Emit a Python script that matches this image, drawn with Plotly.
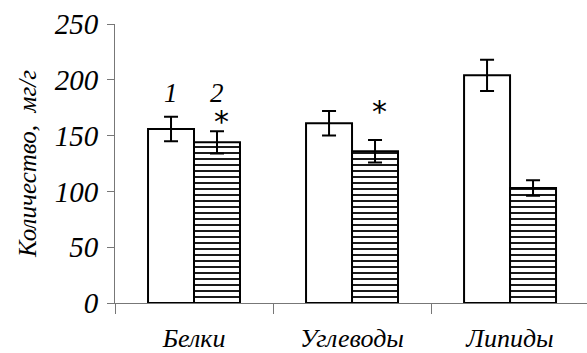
import plotly.graph_objects as go

categories = ["Белки", "Углеводы", "Липиды"]
series1 = [156, 161, 204]
err1 = [11, 11, 14]
series2 = [144, 136, 103]
err2 = [10, 10, 7]
y_ticks = [0, 50, 100, 150, 200, 250]
group_labels = ["1", "2"]
star_cats = ["Белки", "Углеводы"]
star_vals = [163, 172]

FONT = "Liberation Serif"

fig = go.Figure()
fig.add_trace(go.Bar(
    x=categories, y=series1, name="1",
    marker=dict(color="white", line=dict(color="black", width=2)),
    error_y=dict(type="data", array=err1, color="black", thickness=2, width=7),
))
fig.add_trace(go.Bar(
    x=categories, y=series2, name="2",
    marker=dict(color="white", line=dict(color="black", width=2),
                pattern=dict(shape="-", fgcolor="black", fgopacity=1, bgcolor="white",
                             size=6, solidity=0.3)),
    error_y=dict(type="data", array=err2, color="black", thickness=2, width=7),
))

annotations = []
for i, lab in enumerate(group_labels):
    annotations.append(dict(x=categories[0], y=188, xref="x", yref="y", text="<i>" + lab + "</i>",
                            showarrow=False, xshift=(-23 if i == 0 else 23),
                            font=dict(family=FONT, size=27, color="black")))
for c, v in zip(star_cats, star_vals):
    annotations.append(dict(x=c, y=v, xref="x", yref="y", text="*", showarrow=False,
                            xshift=27, font=dict(family="DejaVu Sans", size=30, color="black")))

fig.update_layout(
    width=587, height=353,
    margin=dict(l=115, r=0, t=24, b=48),
    paper_bgcolor="white", plot_bgcolor="white",
    barmode="group", bargap=0.418, bargroupgap=0,
    showlegend=False,
    annotations=annotations,
    font=dict(family=FONT, color="black"),
)
fig.update_xaxes(
    range=[-0.5, 2.487], showgrid=False, showline=True, linecolor="#777", linewidth=1,
    ticks="outside", tickson="boundaries", ticklen=10, tickcolor="#777",
    tickfont=dict(family=FONT, size=26, style="italic", color="black"), ticklabelstandoff=12,
)
fig.update_yaxes(
    range=[0, 250], tickvals=y_ticks, ticktext=["<i>%d</i>" % v for v in y_ticks],
    showgrid=False, showline=True, linecolor="#777",
    linewidth=1, ticks="outside", ticklen=7, tickcolor="#777", zeroline=False,
    tickfont=dict(family=FONT, size=29, color="black"), ticklabelstandoff=3,
    title=dict(text="Количество,  мг/г", font=dict(family=FONT, size=25, style="italic", color="black"), standoff=10),
)
fig.write_html("out.html")
